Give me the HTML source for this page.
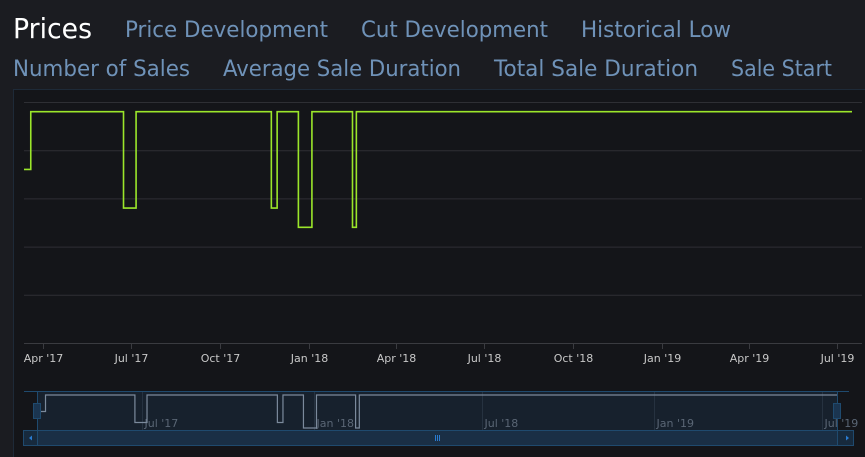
<!DOCTYPE html>
<html><head><meta charset="utf-8"><style>
html,body{margin:0;padding:0;background:#1b1c21;width:865px;height:457px;overflow:hidden}
svg{display:block;font-family:"DejaVu Sans","Liberation Sans",sans-serif}
</style></head><body>
<svg width="865" height="457">
<rect x="0" y="0" width="865" height="457" fill="#1b1c21"/>
<text x="13" y="38" font-size="28" fill="#ffffff" textLength="79" lengthAdjust="spacingAndGlyphs">Prices</text>
<g fill="#6f92b8" font-size="22">
<text x="125" y="37" textLength="203" lengthAdjust="spacingAndGlyphs">Price Development</text>
<text x="361" y="37" textLength="187" lengthAdjust="spacingAndGlyphs">Cut Development</text>
<text x="581" y="37" textLength="150" lengthAdjust="spacingAndGlyphs">Historical Low</text>
<text x="13" y="76" textLength="177" lengthAdjust="spacingAndGlyphs">Number of Sales</text>
<text x="223" y="76" textLength="238" lengthAdjust="spacingAndGlyphs">Average Sale Duration</text>
<text x="494" y="76" textLength="204" lengthAdjust="spacingAndGlyphs">Total Sale Duration</text>
<text x="731" y="76" textLength="101" lengthAdjust="spacingAndGlyphs">Sale Start</text>
</g>
<rect x="13" y="89" width="852" height="368" fill="#141519"/>
<line x1="13" y1="89.5" x2="865" y2="89.5" stroke="#1e2a38"/>
<line x1="13.5" y1="89" x2="13.5" y2="457" stroke="#1e2a38"/>
<g id="grid"></g>
<line x1="24" y1="343.5" x2="862" y2="343.5" stroke="#3a3b40"/>
<g id="xaxis"></g>
<path id="series" fill="none" stroke="#9be62a" stroke-width="1.6"/>
<rect x="24" y="391" width="825" height="40" fill="#141519" stroke="none"/>
<rect x="37" y="391" width="800" height="40" fill="#17212d"/>
<g id="navgrid"></g>
<line x1="24" y1="391.5" x2="849" y2="391.5" stroke="#1f4a6e"/>
<line x1="37.5" y1="391" x2="37.5" y2="431" stroke="#1f4a6e"/>
<line x1="837.5" y1="391" x2="837.5" y2="431" stroke="#1f4a6e"/>
<path id="navseries" fill="none" stroke="#7b8a9c" stroke-width="1.2"/>
<rect x="33.5" y="403.5" width="7" height="15" fill="#1b3550" stroke="#1f4a6e"/>
<rect x="833.5" y="403.5" width="7" height="15" fill="#1b3550" stroke="#1f4a6e"/>
<rect x="23.5" y="430.5" width="830" height="15" fill="#172a3d" stroke="#1f4a6e"/>
<rect x="37.5" y="430.5" width="800" height="15" fill="#1a2f45" stroke="#1f4a6e"/>
<path d="M29,438 L32,435.5 L32,440.5 Z" fill="#2a7bd0"/>
<path d="M849,438 L846,435.5 L846,440.5 Z" fill="#2a7bd0"/>
<g stroke="#2a7bd0"><line x1="435.5" y1="435" x2="435.5" y2="441"/><line x1="437.5" y1="435" x2="437.5" y2="441"/><line x1="439.5" y1="435" x2="439.5" y2="441"/></g>
</svg>
<script>
const dates=["2017-03-12","2017-03-19","2017-06-23","2017-07-06","2017-11-23","2017-11-29","2017-12-21","2018-01-04","2018-02-15","2018-02-19","2019-07-17"];
const prices=[18,24,14,24,14,24,12,24,12,24,24];
const gridValues=[0,5,10,15,20,25];
const tickDates=["2017-04-01","2017-07-01","2017-10-01","2018-01-01","2018-04-01","2018-07-01","2018-10-01","2019-01-01","2019-04-01","2019-07-01"];
const tickLabels=["Apr '17","Jul '17","Oct '17","Jan '18","Apr '18","Jul '18","Oct '18","Jan '19","Apr '19","Jul '19"];
const navTickDates=["2017-07-01","2018-01-01","2018-07-01","2019-01-01","2019-07-01"];
const navTickLabels=["Jul '17","Jan '18","Jul '18","Jan '19","Jul '19"];
const NS="http://www.w3.org/2000/svg";
const day=d=>Date.parse(d)/86400000;
const x0=day("2017-03-12"),x1=day("2019-07-17");
const xs=d=>24+(day(d)-x0)/(x1-x0)*(852-24);
const ys=v=>343-v*(343-102)/25;
const nx=d=>39+(day(d)-x0)/(x1-x0)*(837-39);
const ny=v=>428-(v-12)*(428-395)/12;
function mk(tag,attrs,parent){const e=document.createElementNS(NS,tag);for(const k in attrs)e.setAttribute(k,attrs[k]);parent.appendChild(e);return e;}
const grid=document.getElementById('grid');
gridValues.forEach(v=>{if(v===0)return;
 const l=mk('line',{x1:24,x2:862,y1:ys(v)+0.5,y2:ys(v)+0.5,stroke:'#2e2f34'},grid);
 
 });
const xa=document.getElementById('xaxis');
tickDates.forEach((d,i)=>{const x=Math.round(xs(d))+0.5;
 const t=mk('line',{x1:x,x2:x,y1:343,y2:349,stroke:'#3a3b40'},xa);
 
 
 const tx=mk('text',{x:x,y:362,'text-anchor':'middle','font-size':'11',fill:'#c8c8c8'},xa);
 tx.textContent=tickLabels[i];
 
 });
let p='';
dates.forEach((d,i)=>{const x=xs(d),y=ys(prices[i]);
 if(i===0)p+='M'+x+','+y;else p+=' H'+x+' V'+y;});
document.getElementById('series').setAttribute('d',p);
const ng=document.getElementById('navgrid');
navTickDates.forEach((d,i)=>{const x=Math.round(nx(d))+0.5;
 const l=mk('line',{x1:x,x2:x,y1:391,y2:431,stroke:'#263240'},ng);
 
 
 const tx=mk('text',{x:x+2,y:427,'font-size':'11',fill:'#5a6675'},ng);
 tx.textContent=navTickLabels[i];
 
 });
let q='';
dates.forEach((d,i)=>{const x=nx(d),y=ny(prices[i]);
 if(i===0)q+='M'+x+','+y;else q+=' H'+x+' V'+y;});
document.getElementById('navseries').setAttribute('d',q);
</script>
</body></html>
